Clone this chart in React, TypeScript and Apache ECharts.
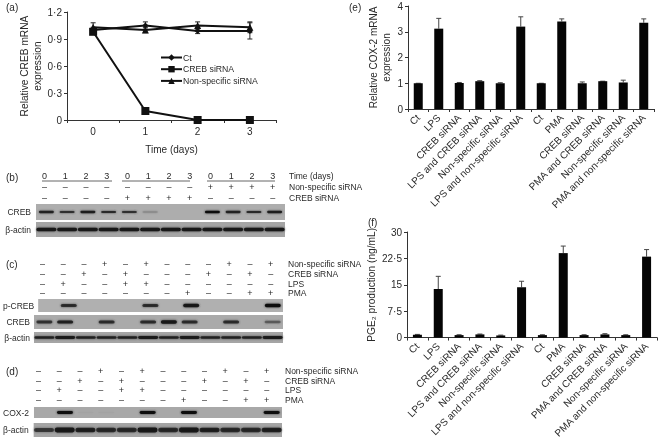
import React, { useEffect, useRef } from "react";
import * as echarts from "echarts";

const FONT = "'Liberation Sans', Arial, sans-serif";
const TEXT = "#2a2a2a";

// Panel (a)
const days = ["0", "1", "2", "3"];
const ctMrna = [1.0, 1.05, 0.99, 0.99];
const ctMrnaErr = [0.03, 0.04, 0.03, 0.09];
const crebMrna = [0.98, 0.1, 0, 0];
const crebMrnaErr = [0.02, 0.01, 0, 0];
const nsMrna = [1.03, 1.0, 1.05, 1.03];
const nsMrnaErr = [0.05, 0.03, 0.04, 0.06];
const ticksA = ["0", "0·3", "0·6", "0·9", "1·2"];

// Panels (e) and (f)
const treatments = [
  "Ct", "LPS", "CREB siRNA", "LPS and CREB siRNA", "Non-specific siRNA", "LPS and non-specific siRNA",
  "Ct", "PMA", "CREB siRNA", "PMA and CREB siRNA", "Non-specific siRNA", "PMA and non-specific siRNA",
];
const cox2 = [1.0, 3.12, 1.01, 1.08, 1.0, 3.2, 1.0, 3.4, 1.0, 1.08, 1.03, 3.35];
const cox2Err = [0, 0.4, 0.02, 0.02, 0.02, 0.38, 0, 0.1, 0.05, 0, 0.09, 0.15];
const ticksE = ["0", "1", "2", "3", "4"];
const pge2 = [0.8, 13.8, 0.7, 0.9, 0.6, 14.3, 0.7, 24, 0.7, 0.9, 0.7, 23];
const pge2Err = [0.1, 3.6, 0.1, 0.1, 0.1, 1.7, 0.1, 2, 0.1, 0.2, 0.1, 2];
const ticksF = ["0", "7·5", "15", "22·5", "30"];

// Blot sign tables
const rowsB = ["Time (days)", "Non-specific siRNA", "CREB siRNA"];
const tableB = [
  ["0", "1", "2", "3", "0", "1", "2", "3", "0", "1", "2", "3"],
  ["–", "–", "–", "–", "–", "–", "–", "–", "+", "+", "+", "+"],
  ["–", "–", "–", "–", "+", "+", "+", "+", "–", "–", "–", "–"],
];
const rowsCD = ["Non-specific siRNA", "CREB siRNA", "LPS", "PMA"];
const tableCD = [
  ["–", "–", "–", "+", "–", "+", "–", "–", "–", "+", "–", "+"],
  ["–", "–", "+", "–", "+", "–", "–", "–", "+", "–", "+", "–"],
  ["–", "+", "–", "–", "+", "+", "–", "–", "–", "–", "–", "–"],
  ["–", "–", "–", "–", "–", "–", "–", "+", "–", "–", "+", "+"],
];

// Blot band intensities per lane
const bCreb = [0.8, 0.7, 0.85, 0.75, 0.7, 0.2, 0, 0, 0.95, 0.8, 0.75, 0.85];
const bActin = [0.9, 0.9, 0.9, 0.9, 0.9, 0.9, 0.9, 0.9, 0.9, 0.9, 0.9, 0.9];
const cPcreb = [0, 0.7, 0, 0, 0, 0.7, 0, 0.9, 0, 0, 0, 1];
const cCreb = [0.65, 0.8, 0, 0.7, 0, 0.7, 0.9, 0.7, 0, 0.7, 0, 0.4];
const cActin = [0.8, 0.85, 0.8, 0.8, 0.8, 0.85, 0.8, 0.85, 0.8, 0.8, 0.8, 0.85];
const dCox2 = [0, 0.95, 0.02, 0.02, 0, 0.95, 0, 0.95, 0, 0, 0, 0.95];
const dActin = [0.6, 0.9, 0.8, 0.7, 0.7, 0.9, 0.7, 0.9, 0.8, 0.7, 0.7, 0.8];

const lanes = Array.from({ length: 12 }, (_, i) => String(i));

function errorSeries(name: string, grid: number, vals: number[], errs: number[], both: boolean, color: string, capW: number) {
  return {
    type: "custom",
    name,
    xAxisIndex: grid,
    yAxisIndex: grid,
    z: 1,
    silent: true,
    data: vals.map((v, i) => [i, v, errs[i]]),
    renderItem: (_: any, api: any) => {
      const i = api.value(0), v = api.value(1), e = api.value(2);
      const [x, y0] = api.coord([i, v]);
      const [, y1] = api.coord([i, v + e]);
      const [, y2] = api.coord([i, both ? v - e : v]);
      const lineStyle = { stroke: color, lineWidth: 1, fill: "none" };
      return {
        type: "group",
        children: [
          { type: "line", shape: { x1: x, y1, x2: x, y2: both ? y2 : y0 }, style: lineStyle },
          { type: "line", shape: { x1: x - capW, y1, x2: x + capW, y2: y1 }, style: lineStyle },
          ...(both ? [{ type: "line", shape: { x1: x - capW, y1: y2, x2: x + capW, y2 }, style: lineStyle }] : []),
        ],
      };
    },
  };
}

function App() {
  const ref = useRef<HTMLDivElement>(null);

  useEffect(() => {
    const chart = echarts.init(ref.current!, undefined, { renderer: "svg" });

    const grids: any[] = [];
    const xAxes: any[] = [];
    const yAxes: any[] = [];
    const series: any[] = [];

    const axisLine = { show: true, lineStyle: { color: "#333", width: 1 } };
    const axisTick = { show: true, length: 3, lineStyle: { color: "#333", width: 1 } };
    const labelStyle = { fontFamily: FONT, color: TEXT, fontSize: 10 };

    // (a)
    grids.push({ left: 67, top: 12, width: 209, height: 108 });
    xAxes.push({
      type: "category", gridIndex: 0, data: days, axisLine, axisTick,
      axisLabel: { ...labelStyle, margin: 6 },
      name: "Time (days)", nameLocation: "middle", nameGap: 24,
      nameTextStyle: { fontFamily: FONT, color: TEXT, fontSize: 10 },
    });
    yAxes.push({
      type: "value", gridIndex: 0, min: 0, max: 1.2, interval: 0.3, splitLine: { show: false }, axisLine, axisTick,
      axisLabel: { ...labelStyle, margin: 5, formatter: (_: number, i: number) => ticksA[i] },
      name: "Relative CREB mRNA\nexpression", nameLocation: "middle", nameRotate: 90, nameGap: 23,
      nameTextStyle: { fontFamily: FONT, color: TEXT, fontSize: 10.2, lineHeight: 13 },
    });
    const lineSeries = (name: string, data: number[], symbol: string, symbolSize: number) => ({
      type: "line", name, data, symbol, symbolSize, xAxisIndex: 0, yAxisIndex: 0, z: 3,
      lineStyle: { color: "#111", width: 2 }, itemStyle: { color: "#111" },
    });
    series.push(
      errorSeries("ctErr", 0, ctMrna, ctMrnaErr, true, "#222", 2.5),
      errorSeries("nsErr", 0, nsMrna, nsMrnaErr, true, "#222", 2.5),
      errorSeries("crebErr", 0, crebMrna, crebMrnaErr, true, "#222", 2.5),
      lineSeries("Ct", ctMrna, "diamond", 6),
      lineSeries("CREB siRNA", crebMrna, "rect", 8),
      lineSeries("Non-specific siRNA", nsMrna, "triangle", 7),
    );

    // (e) and (f)
    const barPanel = (idx: number, left: number, top: number, width: number, height: number, vals: number[], errs: number[], max: number, interval: number, ticks: string[], name: string, gap: number, nameSize: number) => {
      grids.push({ left, top, width, height });
      xAxes.push({
        type: "category", gridIndex: idx, data: treatments, axisLine, axisTick,
        axisLabel: { ...labelStyle, fontSize: 10, rotate: 45, interval: 0, margin: 7 },
      });
      yAxes.push({
        type: "value", gridIndex: idx, min: 0, max, interval, splitLine: { show: false }, axisLine, axisTick,
        axisLabel: { ...labelStyle, margin: 5, formatter: (_: number, i: number) => ticks[i] },
        name, nameLocation: "middle", nameRotate: 90, nameGap: gap,
        nameTextStyle: { fontFamily: FONT, color: TEXT, fontSize: nameSize, lineHeight: 13 },
      });
      series.push(
        errorSeries("err" + idx, idx, vals, errs, false, "#444", 2.5),
        { type: "bar", name: "bar" + idx, data: vals, barWidth: 9, xAxisIndex: idx, yAxisIndex: idx, z: 2, itemStyle: { color: "#050505" } },
      );
    };
    barPanel(1, 408, 6, 246, 103, cox2, cox2Err, 4, 1, ticksE, "Relative COX-2 mRNA\nexpression", 15, 10);
    barPanel(2, 407, 232, 250, 109, pge2, pge2Err, 30, 7.5, ticksF, "PGE₂ production (ng/mL)", 28, 10.2);

    // Blots
    const blot = (left: number, top: number, width: number, height: number, vals: number[], bandW: number, bandH: number, bg: string, label: string, labelMargin: number) => {
      const idx = grids.length;
      grids.push({ left, top, width, height, show: true, backgroundColor: bg, borderWidth: 0 });
      xAxes.push({ type: "category", gridIndex: idx, data: lanes, show: false });
      yAxes.push({
        type: "category", gridIndex: idx, data: [label], axisLine: { show: false }, axisTick: { show: false },
        axisLabel: { ...labelStyle, fontSize: 8.5, margin: labelMargin },
      });
      series.push({
        type: "custom", name: "blot" + idx, xAxisIndex: idx, yAxisIndex: idx, silent: true,
        data: vals.map((v, i) => [i, 0, v]),
        renderItem: (_: any, api: any) => {
          const v = api.value(2);
          if (v <= 0) return null;
          const [x, y] = api.coord([api.value(0), 0]);
          const h = bandH * (0.55 + 0.45 * v);
          return {
            type: "rect",
            shape: { x: x - bandW / 2, y: y - h / 2, width: bandW, height: h, r: h / 2 },
            style: { fill: "#111", opacity: Math.min(1, v * 1.05), shadowBlur: 2.5, shadowColor: "#333" },
          };
        },
      });
    };
    blot(36, 204, 249, 16, bCreb, 15, 2.5, "#adadad", "CREB", 5);
    blot(36, 222, 249, 15, bActin, 20, 3.5, "#a5a5a5", "β-actin", 5);
    blot(34, 299, 249, 13, cPcreb, 16, 3.5, "#b0b0b0", "p-CREB", 4);
    blot(34, 315, 249, 14, cCreb, 16, 3.5, "#aaaaaa", "CREB", 4);
    blot(34, 332, 249, 11, cActin, 20, 3, "#a5a5a5", "β-actin", 4);
    blot(32, 407, 250, 11, dCox2, 16, 3, "#a8a8a8", "COX-2", 5);
    blot(32, 423, 250, 14, dActin, 20, 5, "#a5a5a5", "β-actin", 5);

    // Sign tables
    const signs = (left: number, top: number, height: number, rows: string[], table: string[][], margin: number) => {
      const idx = grids.length;
      grids.push({ left, top, width: 249, height });
      xAxes.push({ type: "category", gridIndex: idx, data: lanes, show: false });
      yAxes.push({
        type: "category", gridIndex: idx, data: rows, inverse: true, position: "right",
        axisLine: { show: false }, axisTick: { show: false },
        axisLabel: { ...labelStyle, fontSize: 8.5, margin, align: "left", interval: 0 },
      });
      const cells: any[] = [];
      table.forEach((row, r) => row.forEach((s, c) => cells.push({ value: [c, r, s] })));
      series.push({
        type: "custom", name: "signs" + idx, xAxisIndex: idx, yAxisIndex: idx, silent: true, data: cells,
        dimensions: [{ name: "c" }, { name: "r" }, { name: "s", type: "ordinal" }],
        encode: { x: 0, y: 1 },
        renderItem: (params: any, api: any) => {
          const cell = cells[params.dataIndex].value;
          const [x, y] = api.coord([cell[0], cell[1]]);
          return {
            type: "text", x, y,
            style: { text: cell[2], fontFamily: FONT, fontSize: 9, fill: TEXT, align: "center", verticalAlign: "middle" },
          };
        },
      });
    };
    signs(34, 170.5, 33, rowsB, tableB, 6);
    signs(32, 259.5, 38.7, rowsCD, tableCD, 7);
    signs(28, 366, 38.7, rowsCD, tableCD, 8);

    const panelLabel = (text: string, x: number, y: number) => ({
      type: "text", x, y,
      style: { text, fontFamily: FONT, fontSize: 10, fill: TEXT, verticalAlign: "middle" },
    });
    const rule = (x1: number, x2: number) => ({
      type: "line", shape: { x1, y1: 181, x2, y2: 181 }, style: { stroke: "#666", lineWidth: 1 },
    });

    chart.setOption({
      animation: false,
      backgroundColor: "#fff",
      grid: grids,
      xAxis: xAxes,
      yAxis: yAxes,
      series,
      legend: {
        data: ["Ct", "CREB siRNA", "Non-specific siRNA"],
        orient: "vertical", left: 160, top: 53, itemWidth: 21, itemHeight: 8, itemGap: 2.7,
        padding: 0,
        textStyle: { fontFamily: FONT, color: TEXT, fontSize: 8.7, padding: [0, 0, 0, -4] },
      },
      graphic: [
        panelLabel("(a)", 6, 7),
        panelLabel("(b)", 6, 177),
        panelLabel("(c)", 6, 264),
        panelLabel("(d)", 6, 371),
        panelLabel("(e)", 349, 7),
        panelLabel("(f)", 368, 222),
        rule(42, 112),
        rule(122, 190),
        rule(207, 275),
      ],
    });
    return () => chart.dispose();
  }, []);

  return <div ref={ref} style={{ position: "fixed", left: 0, top: 0, width: 658, height: 441, filter: "blur(0.35px)" }} />;
}

export default App;
